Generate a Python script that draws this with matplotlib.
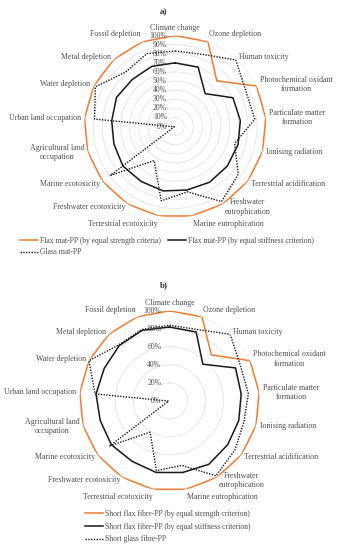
import numpy as np
import matplotlib
matplotlib.use('Agg')
import matplotlib.pyplot as plt
from matplotlib.lines import Line2D

plt.rcParams['font.family'] = ['Liberation Serif', 'DejaVu Serif']

# impact categories (ReCiPe midpoint), clockwise from the top
categories = ['Climate change', 'Ozone depletion', 'Human toxicity',
              'Photochemical oxidant\nformation', 'Particulate matter\nformation',
              'Ionising radiation', 'Terrestrial acidification',
              'Freshwater\neutrophication', 'Marine eutrophication',
              'Terrestrial ecotoxicity', 'Freshwater ecotoxicity',
              'Marine ecotoxicity', 'Agricultural land\noccupation',
              'Urban land occupation', 'Water depletion', 'Metal depletion',
              'Fossil depletion']

# a) mat composites, % of the highest impact
a_strength = [100, 100, 68, 100, 100, 100, 100, 100, 100, 100, 100, 100, 100, 100, 100, 100, 100]
a_stiffness = [70, 70, 49, 71, 72, 72, 72, 72, 71, 72, 71, 72, 70, 70, 72, 70, 71]
a_glass = [83, 85, 99, 87, 88, 68, 87, 97, 73, 83, 44, 89, 1, 89, 98, 81, 86]
a_labels = ['Flax mat-PP (by equal strength criteria)',
            'Flax mat-PP (by equal stiffness criterion)',
            'Glass mat-PP']
a_ticks = [0, 10, 20, 30, 40, 50, 60, 70, 80, 90, 100]

# b) short fibre composites
b_strength = [100, 100, 69, 100, 100, 100, 100, 100, 100, 100, 100, 100, 100, 100, 100, 100, 100]
b_stiffness = [82, 82, 55, 82, 80, 80, 81, 83, 81, 81, 79, 81, 80, 82, 81, 83, 84]
b_glass = [84, 85, 100, 88, 88, 86, 91, 98, 73, 79, 41, 83, 1, 83, 100, 84, 85]
b_labels = ['Short flax fibre-PP (by equal strength criterion)',
            'Short flax fibre-PP (by equal stiffness criterion)',
            'Short glass fibre-PP']
b_ticks = [0, 20, 40, 60, 80, 100]

ORANGE = '#ED7D31'
DARK = '#1a1a1a'
TXT = '#4d4d4d'
FS = 5.7


def radar(ax, strength, stiffness, glass, ticks):
    n = len(categories)
    theta = np.arange(n) * 2 * np.pi / n
    closed = np.append(theta, theta[0])

    ax.set_theta_zero_location('N')
    ax.set_theta_direction(-1)
    ax.set_ylim(0, 100)
    ax.set_yticks(ticks)
    ax.set_yticklabels([])
    ax.set_xticks([])
    ax.spines['polar'].set_visible(False)
    ax.yaxis.grid(True, color='#e3e3e3', lw=0.6)
    ax.xaxis.grid(False)
    ax.set_facecolor('none')

    ax.plot(closed, np.append(strength, strength[0]), color=ORANGE, lw=1.1)
    ax.plot(closed, np.append(stiffness, stiffness[0]), color=DARK, lw=1.1)
    ax.plot(closed, np.append(glass, glass[0]), color=DARK, lw=1.0, ls=(0, (1, 1)))

    for t in ticks:
        ax.annotate(f'{t}%', (0, t), xytext=(-6, 0), textcoords='offset points',
                    ha='right', va='center', fontsize=5.5, color=TXT)

    for th, lab in zip(theta, categories):
        s, c = np.sin(th), np.cos(th)
        ha = 'left' if s > 0.05 else ('right' if s < -0.05 else 'center')
        va = 'bottom' if c > 0.9 else ('top' if c < -0.9 else 'center')
        ax.text(th, 104, lab, ha=ha, va=va, fontsize=FS, color=TXT,
                multialignment='center', clip_on=False)


fig = plt.figure(figsize=(3.4, 5.5), dpi=100)

ax_a = fig.add_axes([0.2476, 0.6044, 0.535, 0.331], projection='polar')
radar(ax_a, a_strength, a_stiffness, a_glass, a_ticks)
fig.text(164 / 340, 1 - 12 / 550, 'a)', ha='center', va='center',
         fontsize=6.5, fontweight='bold', color='#333333')

ax_b = fig.add_axes([0.2338, 0.1076, 0.5294, 0.3273], projection='polar')
radar(ax_b, b_strength, b_stiffness, b_glass, b_ticks)
fig.text(164 / 340, 1 - 285 / 550, 'b)', ha='center', va='center',
         fontsize=6.5, fontweight='bold', color='#333333')


def handles():
    return [Line2D([], [], color=ORANGE, lw=1.1),
            Line2D([], [], color=DARK, lw=1.1),
            Line2D([], [], color=DARK, lw=1.0, ls=(0, (1, 1)))]


ha_ = handles()
fig.legend([ha_[0], ha_[2], ha_[1]], [a_labels[0], a_labels[2], a_labels[1]],
           ncol=2, loc='upper left', bbox_to_anchor=(20 / 340, 1 - 237 / 550),
           frameon=False, fontsize=5.5, handlelength=2.3, handletextpad=0.3,
           columnspacing=1.0, labelspacing=0.45, borderpad=0, borderaxespad=0,
           labelcolor=TXT)

hb = handles()
fig.legend(hb, b_labels, ncol=1, loc='upper left',
           bbox_to_anchor=(85 / 340, 1 - 510 / 550), frameon=False, fontsize=5.5,
           handlelength=2.3, handletextpad=0.3, labelspacing=0.62, borderpad=0,
           borderaxespad=0, labelcolor=TXT)

fig.savefig('out.png', dpi=100)
